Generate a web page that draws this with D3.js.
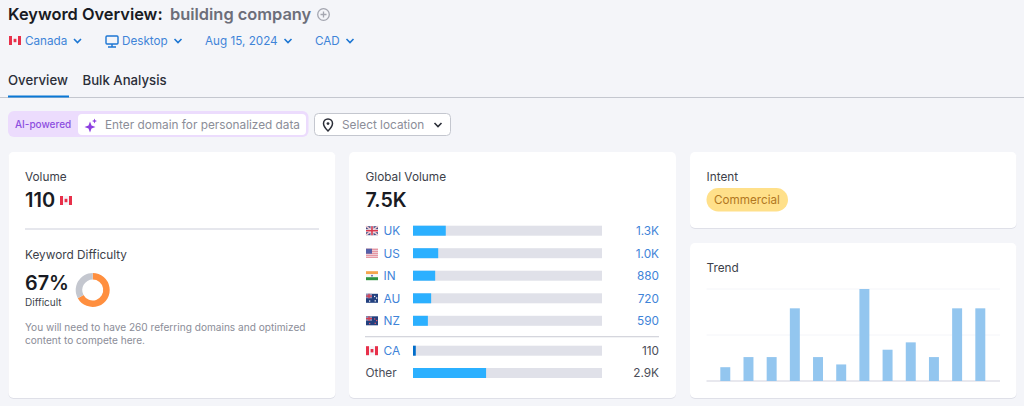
<!DOCTYPE html>
<html lang="en">
<head>
    <meta charset="UTF-8">
    <title>Keyword Overview</title>
    <style>
        html, body { margin: 0; padding: 0; background: #f4f5f9; overflow: hidden; }
        svg { display: block; }
        text { font-family: Inter, "Noto Sans", sans-serif; }
    </style>
</head>
<body>
    <div id="chart"></div>

    <script src="https://d3js.org/d3.v7.min.js"></script>
    <script>
        // global volume by country
        const countries = ["UK", "US", "IN", "AU", "NZ", "CA", "Other"];
        const countryValues = [1300, 1000, 880, 720, 590, 110, 2900];
        const countryLabels = ["1.3K", "1.0K", "880", "720", "590", "110", "2.9K"];
        const globalVolume = 7500;

        // trend, relative to the peak month
        const trendMonths = ["m1", "m2", "m3", "m4", "m5", "m6", "m7", "m8", "m9", "m10", "m11", "m12"];
        const trendValues = [15, 26, 26, 79, 26, 18, 100, 34, 42, 26, 79, 79];
        const trendTicks = [0, 50, 100];

        // keyword difficulty
        const difficulty = [67, 33];

        const filters = ["Canada", "Desktop", "Aug 15, 2024", "CAD"];

        const blue = "#3f84d8";
        const dark = "#191b23";
        const grey = "#6c6e79";
        const track = "#e0e1e9";

        const svg = d3.select("#chart").append("svg")
            .attr("width", 1024)
            .attr("height", 406);

        function label(x, y, str, size, fill, weight, anchor) {
            return svg.append("text")
                .attr("x", x).attr("y", y)
                .attr("font-size", size)
                .attr("fill", fill)
                .attr("font-weight", weight || 400)
                .attr("text-anchor", anchor || "start")
                .text(str);
        }

        function box(x, y, w, h, r, fill, stroke) {
            return svg.append("rect")
                .attr("x", x).attr("y", y)
                .attr("width", w).attr("height", h)
                .attr("rx", r)
                .attr("fill", fill)
                .attr("stroke", stroke || "none");
        }

        function chevron(x, y, color, sw) {
            svg.append("path")
                .attr("d", `M${x - 3.5},${y - 2}L${x},${y + 1.5}L${x + 3.5},${y - 2}`)
                .attr("fill", "none")
                .attr("stroke", color)
                .attr("stroke-width", sw || 1.6);
        }

        // little 12x9 flags
        function flag(code, x, y) {
            const g = svg.append("g").attr("transform", `translate(${x},${y})`);
            const r = (a, b, w, h, c) => g.append("rect").attr("x", a).attr("y", b)
                .attr("width", w).attr("height", h).attr("fill", c);
            if (code === "CA") {
                r(0, 0, 12, 9, "#f4f5f9");
                r(0, 0, 3, 9, "#e8304a");
                r(9, 0, 3, 9, "#e8304a");
                r(4.6, 2.8, 2.8, 3.4, "#e8304a");
            } else if (code === "UK") {
                r(0, 0, 12, 9, "#3f4f86");
                g.append("path").attr("d", "M0,0L12,9M12,0L0,9").attr("stroke", "#f1c9cf").attr("stroke-width", 1.6);
                r(4.5, 0, 3, 9, "#f4f5f9");
                r(0, 3, 12, 3, "#f4f5f9");
                r(5.2, 0, 1.6, 9, "#d9394e");
                r(0, 3.7, 12, 1.6, "#d9394e");
            } else if (code === "US") {
                r(0, 0, 12, 9, "#f4f5f9");
                d3.range(0, 9, 2).forEach(i => r(0, i, 12, 1, "#e0707f"));
                r(0, 0, 6, 5, "#5560a8");
            } else if (code === "IN") {
                r(0, 0, 12, 3, "#f5a54d");
                r(0, 3, 12, 3, "#f7f7f7");
                r(0, 6, 12, 3, "#2f9440");
                r(5.2, 3.7, 1.6, 1.6, "#5560a8");
            } else {
                r(0, 0, 12, 9, "#22407f");
                r(0, 0, 6, 4.5, "#8d8fb5");
                r(2.4, 0, 1.2, 4.5, "#d9394e");
                r(0, 1.7, 6, 1.2, "#d9394e");
                const stars = code === "AU" ? "#f4f5f9" : "#e2596c";
                [[8, 2], [10, 3.6], [8.6, 6.4], [3, 6.6]].forEach(p =>
                    r(p[0], p[1], 1.3, 1.3, stars));
            }
        }

        // page header
        label(8, 20, "Keyword Overview:", 16.4, dark, 600);
        label(170, 20, "building company", 16.4, grey, 600);
        svg.append("circle").attr("cx", 323.5).attr("cy", 14.5).attr("r", 5.8)
            .attr("fill", "none").attr("stroke", "#a4a6b0").attr("stroke-width", 1.3);
        svg.append("path").attr("d", "M320.5,14.5H326.5M323.5,11.5V17.5")
            .attr("stroke", "#a4a6b0").attr("stroke-width", 1.3);

        // filter row
        flag("CA", 9, 36);
        const filterX = [25, 122, 205, 315];
        const chevronX = [77.5, 178, 288, 350];
        filters.forEach((f, i) => {
            label(filterX[i], 45, f, 11.7, blue);
            chevron(chevronX[i], 41, "#1c76d3");
        });
        box(106, 36, 12, 8, 1, "none", "#1c76d3").attr("stroke-width", 1.4);
        svg.append("path").attr("d", "M112,44V47M108,47H116").attr("stroke", "#1c76d3").attr("stroke-width", 1.4);

        // tabs
        label(8, 85, "Overview", 13.2, "#2b2e38", 500);
        label(82.5, 85, "Bulk Analysis", 13.2, "#2b2e38", 500);
        box(0, 97, 1024, 1, 0, "#c4c7cf");
        box(8, 95.5, 61, 2, 0, "#0a78d6");

        // AI search field
        box(8, 111, 300.5, 26, 6, "#ecdcfd");
        box(78, 114, 228, 21, 4, "#ffffff");
        label(15, 127.5, "AI-powered", 10, "#8c4fe0", 500);
        svg.append("path")
            .attr("d", "M90,121.5L91.5,125.5L95.5,127L91.5,128.5L90,132.5L88.5,128.5L84.5,127L88.5,125.5Z M94.5,118.5L95.2,120.3L97,121L95.2,121.7L94.5,123.5L93.8,121.7L92,121L93.8,120.3Z")
            .attr("fill", "#8c3fe0");
        label(105, 129, "Enter domain for personalized data", 11.8, "#8b8d98");

        // location select
        box(314.5, 113.5, 136, 22, 4, "#ffffff", "#c4c7cf");
        svg.append("path")
            .attr("d", "M328,119C325.2,119 323.5,121.1 323.5,123.5C323.5,126.5 328,131 328,131C328,131 332.5,126.5 332.5,123.5C332.5,121.1 330.8,119 328,119Z")
            .attr("fill", "none").attr("stroke", "#2b2e38").attr("stroke-width", 1.5);
        svg.append("circle").attr("cx", 328).attr("cy", 123.6).attr("r", 1.4).attr("fill", "#2b2e38");
        label(342, 129, "Select location", 11.8, "#8b8d98");
        chevron(438, 125, "#2b2e38");

        // cards
        [[8.5, 152, 327, 246], [349, 152, 327, 246], [690, 152, 326.5, 76], [690, 243, 326.5, 155]].forEach(c => {
            box(c[0], c[1] + 1, c[2], c[3], 5, "#dfe0e8");
            box(c[0], c[1], c[2], c[3], 5, "#ffffff");
        });

        // volume card
        label(25, 181, "Volume", 11.8, "#3d3f4a");
        label(25, 207, "110", 20, dark, 600);
        flag("CA", 60, 196);
        box(25, 228, 294, 2, 0, "#e6e7ed");
        label(25, 258.5, "Keyword Difficulty", 11.8, "#3d3f4a");
        label(25, 290, "67%", 19.8, dark, 600);
        label(25, 306, "Difficult", 10, "#3d3f4a");

        // difficulty donut
        const pie = d3.pie().sort(null);
        const arc = d3.arc().innerRadius(10.5).outerRadius(17);
        svg.append("g")
            .attr("transform", "translate(92.7,290)")
            .selectAll("path")
            .data(pie(difficulty))
            .enter()
            .append("path")
            .attr("d", arc)
            .attr("fill", (d, i) => i === 0 ? "#ff8f3f" : "#c4c7cf");

        label(25, 330.5, "You will need to have 260 referring domains and optimized", 10.1, "#8b8d98");
        label(25, 343.5, "content to compete here.", 10.1, "#8b8d98");

        // global volume card
        label(365.5, 181, "Global Volume", 11.8, "#3d3f4a");
        label(365.5, 207, "7.5K", 19.6, dark, 600);

        const barX = d3.scaleLinear()
            .domain([0, globalVolume])
            .range([413, 602]);
        // rows are not evenly spaced: CA and Other sit below the divider
        const rowY = [230.7, 253.2, 275.7, 298.3, 320.8, 350.7, 373];

        countries.forEach((c, i) => {
            const y = rowY[i];
            if (c !== "Other") {
                flag(c, 366, y - 4.5);
                label(383.5, y + 4.3, c, 11.8, blue);
            } else {
                label(365.5, y + 4.3, c, 11.8, "#4b4d58");
            }
            label(659, y + 4.3, countryLabels[i], 11.8, i < 5 ? blue : "#4b4d58", 400, "end");
        });

        svg.selectAll(".track")
            .data(countries)
            .enter()
            .append("rect")
            .attr("class", "track")
            .attr("x", barX(0))
            .attr("y", (d, i) => rowY[i] - 5)
            .attr("width", barX(globalVolume) - barX(0))
            .attr("height", 10)
            .attr("fill", track);

        svg.selectAll(".bar")
            .data(countryValues)
            .enter()
            .append("rect")
            .attr("class", "bar")
            .attr("x", barX(0))
            .attr("y", (d, i) => rowY[i] - 5)
            .attr("width", d => barX(d) - barX(0))
            .attr("height", 10)
            .attr("fill", (d, i) => countries[i] === "CA" ? "#006dca" : "#2bb0ff");

        box(365, 336, 294, 1.3, 0, "#d5d6dd");

        // intent card
        label(706.5, 181, "Intent", 11.8, "#3d3f4a");
        box(706.5, 188, 81.5, 23.5, 11.7, "#ffe08a");
        label(714, 203.5, "Commercial", 11.7, "#b2771f");

        // trend card
        label(706.5, 272, "Trend", 11.8, "#3d3f4a");

        const trendX = d3.scaleBand()
            .domain(trendMonths)
            .range([713.7, 991.9])
            .paddingInner(0.57)
            .paddingOuter(0.285);
        const trendY = d3.scaleLinear()
            .domain([0, 100])
            .range([381, 289]);

        svg.selectAll(".grid")
            .data(trendTicks)
            .enter()
            .append("line")
            .attr("class", "grid")
            .attr("x1", 706.5)
            .attr("x2", 1000)
            .attr("y1", d => trendY(d))
            .attr("y2", d => trendY(d))
            .attr("stroke", (d) => d === 0 ? "#e0e1e9" : "#f4f5f9")
            .attr("stroke-width", d => d === 0 ? 1.5 : 1);

        svg.selectAll(".trend")
            .data(trendValues)
            .enter()
            .append("rect")
            .attr("class", "trend")
            .attr("x", (d, i) => trendX(trendMonths[i]))
            .attr("y", d => trendY(d))
            .attr("width", trendX.bandwidth())
            .attr("height", d => trendY(0) - trendY(d))
            .attr("fill", "#93c6ef");
    </script>
</body>
</html>
